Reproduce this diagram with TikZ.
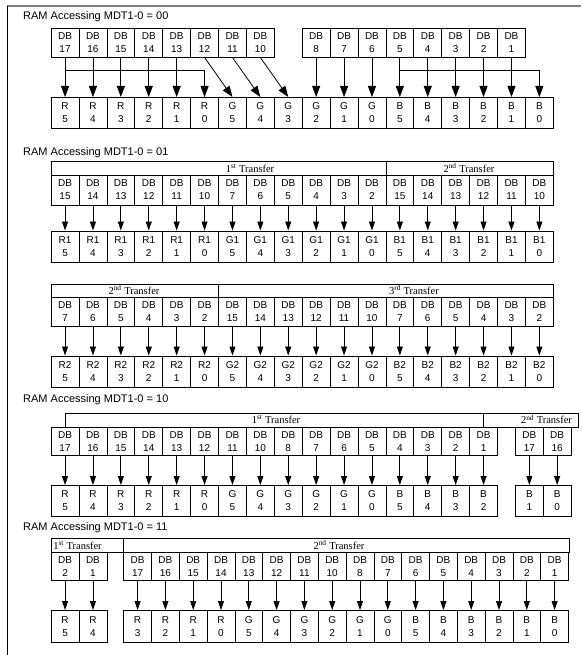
\documentclass[tikz,border=0pt]{standalone}
\usepackage{fontspec}
\setmainfont{Liberation Sans}
\newfontfamily\tms{Liberation Serif}
\usetikzlibrary{arrows.meta}
\newcommand\wc{27.9}
\tikzset{
  cell/.style={draw, line width=0.8pt, rectangle, inner sep=0pt, minimum width=27.9pt,
    align=center, anchor=north west, font=\fontsize{10}{13}\selectfont},
  hdr/.style={draw, line width=0.8pt, rectangle, inner sep=0pt, anchor=north west},
  ttl/.style={anchor=west, inner sep=0pt, font=\fontsize{11}{13}\selectfont},
  ttext/.style={inner sep=0pt, font=\tms\fontsize{10.5}{12}\selectfont},
  bigarr/.style={line width=0.8pt, -{Triangle[length=11pt,width=8pt]}},
  arr/.style={line width=0.8pt, -{Triangle[length=9pt,width=6pt]}},
  ln/.style={line width=0.8pt}
}
\newcommand\botrow[4]{%
  \foreach \c [count=\k from 0] in {R,G,B}{
    \foreach \n in {5,4,3,2,1,0}{
      \pgfmathtruncatemacro\idx{\k*6+5-\n}
      \node[cell, minimum height=#4] (#1\idx) at ({50.7+\idx*\wc},#3) {\c#2\\\n};
    }
  }
}
\begin{document}
\begin{tikzpicture}[x=1pt,y=-1pt]
\useasboundingbox (0,0) rectangle (581,655);
% frame
\draw[line width=1.6pt, color=gray] (7,6) -- (581,6);
\draw[line width=0.8pt] (7,6) -- (7,655);

% ===== Section 1: MDT = 00
\node[ttl] (t1) at (23,17) {RAM Accessing MDT1-0 = 00};
\foreach \v [count=\i from 0] in {17,16,15,14,13,12,11,10}
  \node[cell, minimum height=28.4pt] (a\i) at ({50.7+\i*\wc},28.3) {DB\\\v};
\foreach \v [count=\i from 9] in {8,7,6,5,4,3,2,1}
  \node[cell, minimum height=28.4pt] (a\i) at ({50.7+\i*\wc},28.3) {DB\\\v};
\botrow{b}{}{97}{31pt}
\foreach \i in {0,1,2,3,4,9,10,11,12,13,14,15,16}
  \draw[bigarr] (a\i.south) -- (b\i.north);
\foreach \i/\j in {5/6,6/7,7/8}
  \draw[bigarr] (a\i.south) -- (b\j.north);
\draw[bigarr] (a0.south) -- ++(0,13.3) -| (b5.north);
\draw[bigarr] (a12.south) -- ++(0,13.3) -| (b17.north);

% ===== Section 2: MDT = 01
\node[ttl] (t2) at (23,153) {RAM Accessing MDT1-0 = 01};
\node[hdr, minimum width={12*\wc}, minimum height=13.5pt] (h21) at (50.7,161) {};
\node[hdr, minimum width={6*\wc}, minimum height=13.5pt] (h22) at ({50.7+12*\wc},161) {};
\node[ttext] (x21) at (250,168) {1\textsuperscript{st} Transfer};
\node[ttext] (x22) at (469,168) {2\textsuperscript{nd} Transfer};
\foreach \v [count=\i from 0] in {15,14,13,12,11,10,7,6,5,4,3,2,15,14,13,12,11,10}
  \node[cell, minimum height=30pt] (c\i) at ({50.7+\i*\wc},174.5) {DB\\\v};
\botrow{d}{1}{230.5}{31.5pt}
\foreach \i in {0,...,17}
  \draw[arr] (c\i.south) -- (d\i.north);

% row 2
\node[hdr, minimum width={6*\wc}, minimum height=13pt] (h23) at (50.7,283.5) {};
\node[hdr, minimum width={12*\wc}, minimum height=13pt] (h24) at ({50.7+6*\wc},283.5) {};
\node[ttext] (x23) at (134,290) {2\textsuperscript{nd} Transfer};
\node[ttext] (x24) at (414,290) {3\textsuperscript{rd} Transfer};
\foreach \v [count=\i from 0] in {7,6,5,4,3,2,15,14,13,12,11,10,7,6,5,4,3,2}
  \node[cell, minimum height=29pt] (e\i) at ({50.7+\i*\wc},296.5) {DB\\\v};
\botrow{f}{2}{355.5}{31.5pt}
\foreach \i in {0,...,17}
  \draw[arr] (e\i.south) -- (f\i.north);

% ===== Section 3: MDT = 10
\node[ttl] (t3) at (23,400) {RAM Accessing MDT1-0 = 10};
\foreach \v [count=\i from 0] in {17,16,15,14,13,12,11,10,8,7,6,5,4,3,2,1}
  \node[cell, minimum height=28.3pt] (g\i) at ({50.7+\i*\wc},426.7) {DB\\\v};
\node[cell, minimum height=28.3pt] (g16) at (515,426.7) {DB\\17};
\node[cell, minimum height=28.3pt] (g17) at (542.8,426.7) {DB\\16};
\draw[ln] (g0.north) -- ++(0,-13.7) -| (g15.north);
\node[hdr, minimum width=95.3pt, minimum height=13.7pt] (h32) at (483.15,413) {};
\node[ttext] (x31) at (276,419.5) {1\textsuperscript{st} Transfer};
\node[ttext] (x32) at (546.5,419.5) {2\textsuperscript{nd} Transfer};
\foreach \l/\n [count=\i from 0] in {R/5,R/4,R/3,R/2,R/1,R/0,G/5,G/4,G/3,G/2,G/1,G/0,B/5,B/4,B/3,B/2}
  \node[cell, minimum height=31pt] (k\i) at ({50.7+\i*\wc},485) {\l\\\n};
\node[cell, minimum height=31pt] (k16) at (515,485) {B\\1};
\node[cell, minimum height=31pt] (k17) at (542.8,485) {B\\0};
\foreach \i in {0,...,17}
  \draw[arr] (g\i.south) -- (k\i.north);

% ===== Section 4: MDT = 11
\node[ttl] (t4) at (23,528) {RAM Accessing MDT1-0 = 11};
\node[hdr, minimum width=72.6pt, minimum height=13.4pt] (h41) at (50.7,538.3) {};
\node[hdr, minimum width=445.2pt, minimum height=13.4pt] (h42) at (123.3,538.3) {};
\node[ttext] (x41) at (77.5,545) {1\textsuperscript{st} Transfer};
\node[ttext] (x42) at (339,545) {2\textsuperscript{nd} Transfer};
\node[cell, minimum height=28.3pt] (m0) at (50.7,551.7) {DB\\2};
\node[cell, minimum height=28.3pt] (m1) at (78.6,551.7) {DB\\1};
\foreach \v [count=\i from 2] in {17,16,15,14,13,12,11,10,8,7,6,5,4,3,2,1}
  \node[cell, minimum height=28.3pt, minimum width=27.8pt] (m\i) at ({123.3+(\i-2)*27.8},551.7) {DB\\\v};
\node[cell, minimum height=31.7pt] (n0) at (50.7,610) {R\\5};
\node[cell, minimum height=31.7pt] (n1) at (78.6,610) {R\\4};
\foreach \l/\n [count=\i from 2] in {R/3,R/2,R/1,R/0,G/5,G/4,G/3,G/2,G/1,G/0,B/5,B/4,B/3,B/2,B/1,B/0}
  \node[cell, minimum height=31.7pt, minimum width=27.8pt] (n\i) at ({123.3+(\i-2)*27.8},610) {\l\\\n};
\foreach \i in {0,...,17}
  \draw[arr] (m\i.south) -- (n\i.north);
\end{tikzpicture}
\end{document}
